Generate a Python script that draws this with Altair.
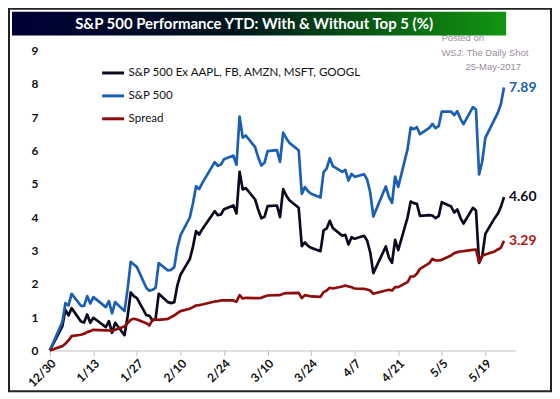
import altair as alt
import pandas as pd

dates = [
    "2016-12-30", "2017-01-03", "2017-01-04", "2017-01-05", "2017-01-06",
    "2017-01-09", "2017-01-10", "2017-01-11", "2017-01-12", "2017-01-13",
    "2017-01-17", "2017-01-18", "2017-01-19", "2017-01-20",
    "2017-01-23", "2017-01-24", "2017-01-25", "2017-01-26", "2017-01-27",
    "2017-01-30", "2017-01-31", "2017-02-01", "2017-02-02", "2017-02-03",
    "2017-02-06", "2017-02-07", "2017-02-08", "2017-02-09", "2017-02-10",
    "2017-02-13", "2017-02-14", "2017-02-15", "2017-02-16", "2017-02-17",
    "2017-02-21", "2017-02-22", "2017-02-23", "2017-02-24",
    "2017-02-27", "2017-02-28", "2017-03-01", "2017-03-02", "2017-03-03",
    "2017-03-06", "2017-03-07", "2017-03-08", "2017-03-09", "2017-03-10",
    "2017-03-13", "2017-03-14", "2017-03-15", "2017-03-16", "2017-03-17",
    "2017-03-20", "2017-03-21", "2017-03-22", "2017-03-23", "2017-03-24",
    "2017-03-27", "2017-03-28", "2017-03-29", "2017-03-30", "2017-03-31",
    "2017-04-03", "2017-04-04", "2017-04-05", "2017-04-06", "2017-04-07",
    "2017-04-10", "2017-04-11", "2017-04-12", "2017-04-13",
    "2017-04-17", "2017-04-18", "2017-04-19", "2017-04-20", "2017-04-21",
    "2017-04-24", "2017-04-25", "2017-04-26", "2017-04-27", "2017-04-28",
    "2017-05-01", "2017-05-02", "2017-05-03", "2017-05-04", "2017-05-05",
    "2017-05-08", "2017-05-09", "2017-05-10", "2017-05-11", "2017-05-12",
    "2017-05-15", "2017-05-16", "2017-05-17", "2017-05-18", "2017-05-19",
    "2017-05-22", "2017-05-23", "2017-05-24", "2017-05-25",
]

sp500 = [
    0.00, 0.85, 1.42, 1.35, 1.70,
    1.34, 1.34, 1.63, 1.41, 1.60,
    1.30, 1.48, 1.11, 1.45,
    1.18, 1.84, 2.66, 2.58, 2.50,
    1.88, 1.79, 1.82, 1.88, 2.62,
    2.40, 2.42, 2.50, 3.08, 3.45,
    3.99, 4.41, 4.93, 4.84, 5.02,
    5.65, 5.54, 5.58, 5.74,
    5.85, 5.57, 7.02, 6.39, 6.45,
    6.10, 5.79, 5.55, 5.63, 5.98,
    6.01, 5.66, 6.54, 6.37, 6.23,
    6.01, 4.70, 4.90, 4.78, 4.70,
    4.59, 5.35, 5.46, 5.77, 5.53,
    5.36, 5.42, 5.10, 5.30, 5.21,
    5.29, 5.13, 4.74, 4.02,
    4.92, 4.61, 4.43, 5.22, 4.91,
    6.04, 6.69, 6.64, 6.70, 6.49,
    6.68, 6.80, 6.67, 6.73, 7.17,
    7.17, 7.06, 7.18, 6.95, 6.79,
    7.30, 7.23, 5.28, 5.67, 6.38,
    6.94, 7.13, 7.39, 7.89,
]

ex_top5 = [
    0.00, 0.72, 1.22, 1.05, 1.27,
    0.87, 0.84, 1.08, 0.83, 0.98,
    0.70, 0.88, 0.53, 0.83,
    0.46, 1.02, 1.74, 1.63, 1.57,
    1.06, 1.04, 0.90, 0.95, 1.70,
    1.45, 1.42, 1.45, 1.96, 2.27,
    2.74, 3.11, 3.58, 3.48, 3.64,
    4.18, 4.06, 4.08, 4.24,
    4.35, 4.11, 5.36, 4.83, 4.87,
    4.53, 4.22, 3.97, 4.01, 4.33,
    4.35, 4.00, 4.84, 4.65, 4.51,
    4.28, 3.13, 3.24, 3.14, 3.08,
    2.98, 3.60, 3.66, 3.89, 3.67,
    3.44, 3.47, 3.18, 3.40, 3.35,
    3.44, 3.30, 2.94, 2.32,
    3.12, 2.79, 2.63, 3.32, 3.01,
    3.99, 4.47, 4.42, 4.40, 4.04,
    4.06, 4.05, 3.97, 4.03, 4.45,
    4.32, 4.14, 4.23, 3.98, 3.81,
    4.28, 4.20, 2.63, 2.83, 3.50,
    3.97, 4.10, 4.31, 4.60,
]

spread = [
    0.00, 0.13, 0.20, 0.30, 0.43,
    0.47, 0.50, 0.55, 0.58, 0.62,
    0.60, 0.60, 0.58, 0.62,
    0.72, 0.82, 0.92, 0.95, 0.93,
    0.82, 0.75, 0.92, 0.93, 0.92,
    0.95, 1.00, 1.05, 1.12, 1.18,
    1.25, 1.30, 1.35, 1.36, 1.38,
    1.47, 1.48, 1.50, 1.50,
    1.50, 1.46, 1.66, 1.56, 1.58,
    1.57, 1.57, 1.58, 1.62, 1.65,
    1.66, 1.66, 1.70, 1.72, 1.72,
    1.73, 1.57, 1.66, 1.64, 1.62,
    1.61, 1.75, 1.80, 1.88, 1.86,
    1.92, 1.95, 1.92, 1.90, 1.86,
    1.85, 1.83, 1.80, 1.70,
    1.80, 1.82, 1.80, 1.90, 1.90,
    2.05, 2.22, 2.22, 2.30, 2.45,
    2.62, 2.75, 2.70, 2.70, 2.72,
    2.85, 2.92, 2.95, 2.97, 2.98,
    3.02, 3.03, 2.65, 2.84, 2.88,
    2.97, 3.03, 3.08, 3.29,
]

tick_dates = [
    "2016-12-30", "2017-01-13", "2017-01-27", "2017-02-10", "2017-02-24",
    "2017-03-10", "2017-03-24", "2017-04-07", "2017-04-21", "2017-05-05",
    "2017-05-19",
]

y_ticks = [0, 1, 2, 3, 4, 5, 6, 7, 8, 9]

S_EX = "S&P 500 Ex AAPL, FB, AMZN, MSFT, GOOGL"
S_SP = "S&P 500"
S_SPR = "Spread"
series_names = [S_EX, S_SP, S_SPR]
series_colors = ["#0b0b1f", "#1a5fb4", "#8e0c0c"]
label_colors = ["#0b0b1f", "#1a5fb4", "#b01515"]

title_text = "S&P 500 Performance YTD: With & Without Top 5 (%)"

rows = []
for name, vals in zip(series_names, [ex_top5, sp500, spread]):
    for d, v in zip(dates, vals):
        rows.append({"date": d, "series": name, "value": v})
df = pd.DataFrame(rows)

last = df[df["date"] == dates[-1]].copy()
last["label"] = last["value"].map(lambda v: f"{v:.2f}")
last["lcolor"] = last["series"].map(dict(zip(series_names, label_colors)))


def dt(s, hours=0):
    y, m, d = map(int, s.split("-"))
    return alt.DateTime(year=y, month=m, date=d, hours=hours, utc=True)


x_enc = alt.X(
    "date:T",
    scale=alt.Scale(type="utc", domain=[dt("2016-12-30"), dt("2017-05-28", 14)]),
    axis=alt.Axis(
        values=[dt(s) for s in tick_dates],
        labelExpr="utcFormat(datum.value, '%-m/%-d')",
        labelOverlap=False,
        labelAngle=-45,
        labelFont="Lato",
        labelFontSize=12,
        labelFontWeight="bold",
        labelColor="#111111",
        labelPadding=2,
        domainColor="#c0c0c0",
        domainWidth=1,
        tickColor="#c0c0c0",
        tickSize=5,
        grid=False,
        title=None,
    ),
)
y_enc = alt.Y(
    "value:Q",
    scale=alt.Scale(domain=[0, 9], nice=False, zero=False),
    axis=alt.Axis(
        values=y_ticks,
        labelOverlap=False,
        domain=False,
        ticks=False,
        grid=False,
        labelFont="Lato",
        labelFontSize=12,
        labelFontWeight="bold",
        labelColor="#111111",
        labelPadding=12,
        title=None,
    ),
)

one = pd.DataFrame({"k": [0]})

border = alt.Chart(one).mark_rect(
    fillOpacity=0, stroke="#222222", strokeWidth=2
).encode(
    x=alt.value(-41), x2=alt.value(503), y=alt.value(-42), y2=alt.value(342)
)

posted = alt.Chart(one).mark_text(
    text="Posted on", align="left", baseline="middle", fontSize=9.5,
    font="Liberation Sans", color="#9d8c9d",
).encode(x=alt.value(393), y=alt.value(-13))

bar = alt.Chart(one).mark_rect(
    fill=alt.Gradient(
        gradient="linear",
        stops=[
            alt.GradientStop(color="#000036", offset=0),
            alt.GradientStop(color="#00141c", offset=0.45),
            alt.GradientStop(color="#0b6a12", offset=0.8),
            alt.GradientStop(color="#129512", offset=1),
        ],
        x1=0, x2=1, y1=0, y2=0,
    )
).encode(x=alt.value(-38), x2=alt.value(458), y=alt.value(-39), y2=alt.value(-15))

title = alt.Chart(one).mark_text(
    text=title_text, align="center", baseline="middle", fontSize=15,
    fontWeight="bold", font="Lato", color="white",
).encode(x=alt.value(205), y=alt.value(-27))

wsj = alt.Chart(one).mark_text(
    text="WSJ: The Daily Shot", align="left", baseline="middle", fontSize=9.5,
    font="Liberation Sans", color="#9d8c9d",
).encode(x=alt.value(393), y=alt.value(2))

date_txt = alt.Chart(one).mark_text(
    text="25-May-2017", align="right", baseline="middle", fontSize=9.5,
    font="Liberation Sans", color="#9d8c9d",
).encode(x=alt.value(473), y=alt.value(17))

lines = alt.Chart(df).mark_line(strokeWidth=2.7, strokeJoin="round").encode(
    x=x_enc,
    y=y_enc,
    color=alt.Color(
        "series:N",
        scale=alt.Scale(domain=series_names, range=series_colors),
        legend=alt.Legend(
            title=None,
            orient="none",
            legendX=51,
            legendY=10,
            symbolType="stroke",
            symbolSize=484,
            symbolStrokeWidth=3,
            labelFont="Lato",
            labelFontSize=11.6,
            labelColor="#111111",
            labelOffset=3,
            labelLimit=400,
            rowPadding=4,
            padding=0,
        ),
    ),
)

end_labels = alt.Chart(last).mark_text(
    align="left", baseline="middle", dx=5, fontSize=14, fontWeight="bold", font="Lato"
).encode(
    x=x_enc,
    y=y_enc,
    text="label:N",
    color=alt.Color("lcolor:N", scale=None),
)

chart = alt.layer(
    border, posted, bar, title, wsj, date_txt, lines, end_labels
).properties(
    width=467,
    height=301,
    padding={"left": 42, "top": 42, "right": 37, "bottom": 43},
    autosize=alt.AutoSizeParams(type="none"),
    background="white",
).configure_view(stroke=None)

chart.save("out.html", embed_options={"renderer": "svg", "actions": False})
